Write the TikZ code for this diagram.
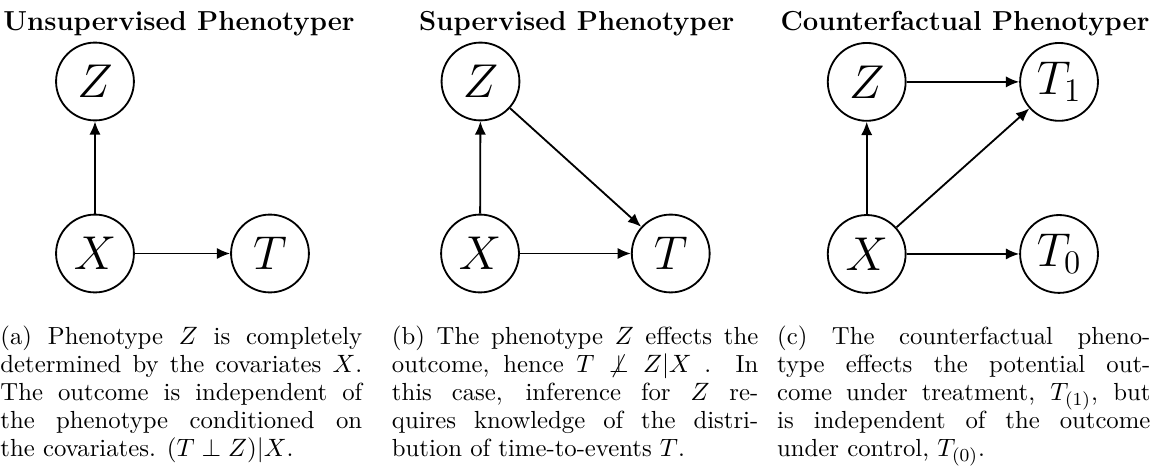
\documentclass[tikz,border=0pt]{standalone}
\usepackage{amsmath}
\usepackage{amssymb}
\usetikzlibrary{arrows.meta}

\begin{document}
\begin{tikzpicture}[
  var/.style={circle, draw, thick, minimum size=34pt, inner sep=0pt, font=\huge},
  dep/.style={thick, -{Latex[length=5.8pt,width=4.9pt]}},
  title/.style={anchor=base, inner sep=0pt, font=\large\bfseries},
  capt/.style={anchor=base west, inner sep=0pt, align=justify,
    font={\fontsize{10.8pt}{12.2pt}\selectfont}}
]
  \useasboundingbox (0,0) rectangle (17.774,7.306);

  %% (a) Unsupervised phenotyper
  \node[title] (titleA) at (2.747,6.84) {Unsupervised Phenotyper};
  \node[var] (Za) at (1.458,6.055) {$Z$};
  \node[var] (Xa) at (1.458,3.415) {$X$};
  \node[var] (Ta) at (4.144,3.415) {$T$};
  \draw[dep] (Xa) -- (Za);
  \draw[dep] (Xa) -- (Ta);
  \node[capt, text width=158pt] (captA) at (0,2.02)
    {(a) Phenotype $Z$ is completely\linebreak
     determined by the covariates $X$.\linebreak
     The outcome is independent of\linebreak
     the phenotype conditioned on\linebreak
     the covariates. $(T \perp Z)|X$.};

  %% (b) Supervised phenotyper
  \node[title] (titleB) at (8.852,6.84) {Supervised Phenotyper};
  \node[var] (Zb) at (7.375,6.055) {$Z$};
  \node[var] (Xb) at (7.368,3.415) {$X$};
  \node[var] (Tb) at (10.295,3.415) {$T$};
  \draw[dep] (Xb) -- (Zb);
  \draw[dep] (Xb) -- (Tb);
  \draw[dep] (Zb) -- (Tb);
  \node[capt, text width=160pt] (captB) at (6.009,2.02)
    {(b) The phenotype $Z$ effects the\linebreak
     outcome, hence $T \not\perp Z|X$\ . In\linebreak
     this case, inference for $Z$ re-\linebreak
     quires knowledge of the distri-\linebreak
     bution of time-to-events $T$.};

  %% (c) Counterfactual phenotyper
  \node[title] (titleC) at (14.812,6.84) {Counterfactual Phenotyper};
  \node[var] (Zc) at (13.303,6.049) {$Z$};
  \node[var] (Xc) at (13.303,3.408) {$X$};
  \node[var] (Tone) at (16.255,6.049) {$T_1$};
  \node[var] (Tzero) at (16.255,3.408) {$T_0$};
  \draw[dep] (Xc) -- (Zc);
  \draw[dep] (Zc) -- (Tone);
  \draw[dep] (Xc) -- (Tone);
  \draw[dep] (Xc) -- (Tzero);
  \node[capt, text width=163pt] (captC) at (11.922,2.02)
    {(c) The counterfactual pheno-\linebreak
     type effects the potential out-\linebreak
     come under treatment, $T_{(1)}$, but\linebreak
     is independent of the outcome\linebreak
     under control, $T_{(0)}$.};
\end{tikzpicture}
\end{document}
